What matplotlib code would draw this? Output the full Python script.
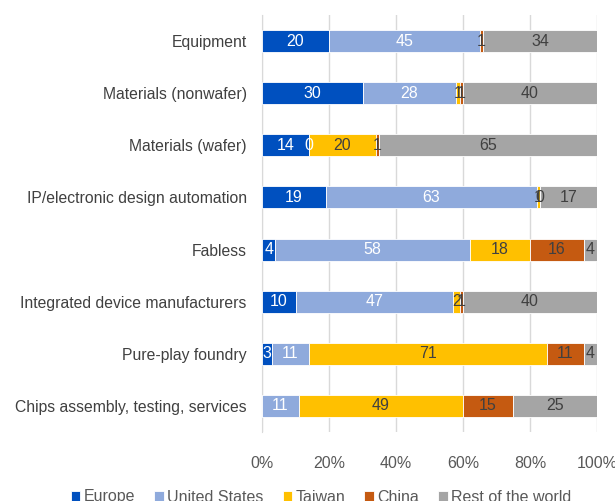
import numpy as np
import matplotlib.pyplot as plt

plt.rcParams['font.family'] = ['Liberation Sans', 'DejaVu Sans']

categories = ["Equipment", "Materials (nonwafer)", "Materials (wafer)",
              "IP/electronic design automation", "Fabless",
              "Integrated device manufacturers", "Pure-play foundry",
              "Chips assembly, testing, services"]
series = ["Europe", "United States", "Taiwan", "China", "Rest of the world"]
europe = [20, 30, 14, 19, 4, 10, 3, np.nan]
united_states = [45, 28, 0, 63, 58, 47, 11, 11]
taiwan = [np.nan, 1, 20, 1, 18, 2, 71, 49]
china = [1, 1, 1, 0, 16, 1, 11, 15]
rest_of_world = [34, 40, 65, 17, 4, 40, 4, 25]

colors = ["#0050BF", "#8FAADC", "#FFC000", "#C55A11", "#A5A5A5"]
text_colors = ["white", "white", "#404040", "#404040", "#404040"]

fig = plt.figure(figsize=(6.15, 5.01), dpi=100)
ax = fig.add_axes([262/615, 1-432/501, 335/615, 417/501])

y = np.arange(len(categories))
left = np.zeros(len(categories))
for name, vals, c, tc in zip(series, [europe, united_states, taiwan, china, rest_of_world], colors, text_colors):
    v = np.nan_to_num(np.array(vals, dtype=float))
    ax.barh(y, v, left=left, height=0.42, color=c, edgecolor="white", linewidth=0.6, label=name, zorder=3)
    for i, val in enumerate(vals):
        if not np.isnan(val):
            ax.text(left[i] + v[i]/2, y[i], f"{int(val)}", ha="center", va="center",
                    color=tc, fontsize=11.5, zorder=4)
    left += v

ax.set_xlim(0, 100)
ax.set_ylim(len(categories) - 0.5, -0.5)
ax.set_yticks(y)
ax.set_yticklabels(categories, fontsize=11.3, color="#404040")
ax.set_xticks([0, 20, 40, 60, 80, 100])
ax.set_xticklabels(["0%", "20%", "40%", "60%", "80%", "100%"], fontsize=11.5, color="#595959")
ax.tick_params(axis="y", length=0, pad=11)
ax.tick_params(axis="x", length=0, pad=17)
ax.grid(axis="x", color="#D9D9D9", linewidth=1, zorder=0)
for s in ["top", "right", "bottom"]:
    ax.spines[s].set_visible(False)
ax.spines["left"].set_color("#D9D9D9")

fig.legend(loc="center", bbox_to_anchor=(321/615, 1-497/501),
           ncol=5, frameon=False, fontsize=11.5, handlelength=0.6, handleheight=0.6,
           handletextpad=0.2, columnspacing=1.2, labelcolor="#595959")

fig.savefig("out.png", dpi=100)
